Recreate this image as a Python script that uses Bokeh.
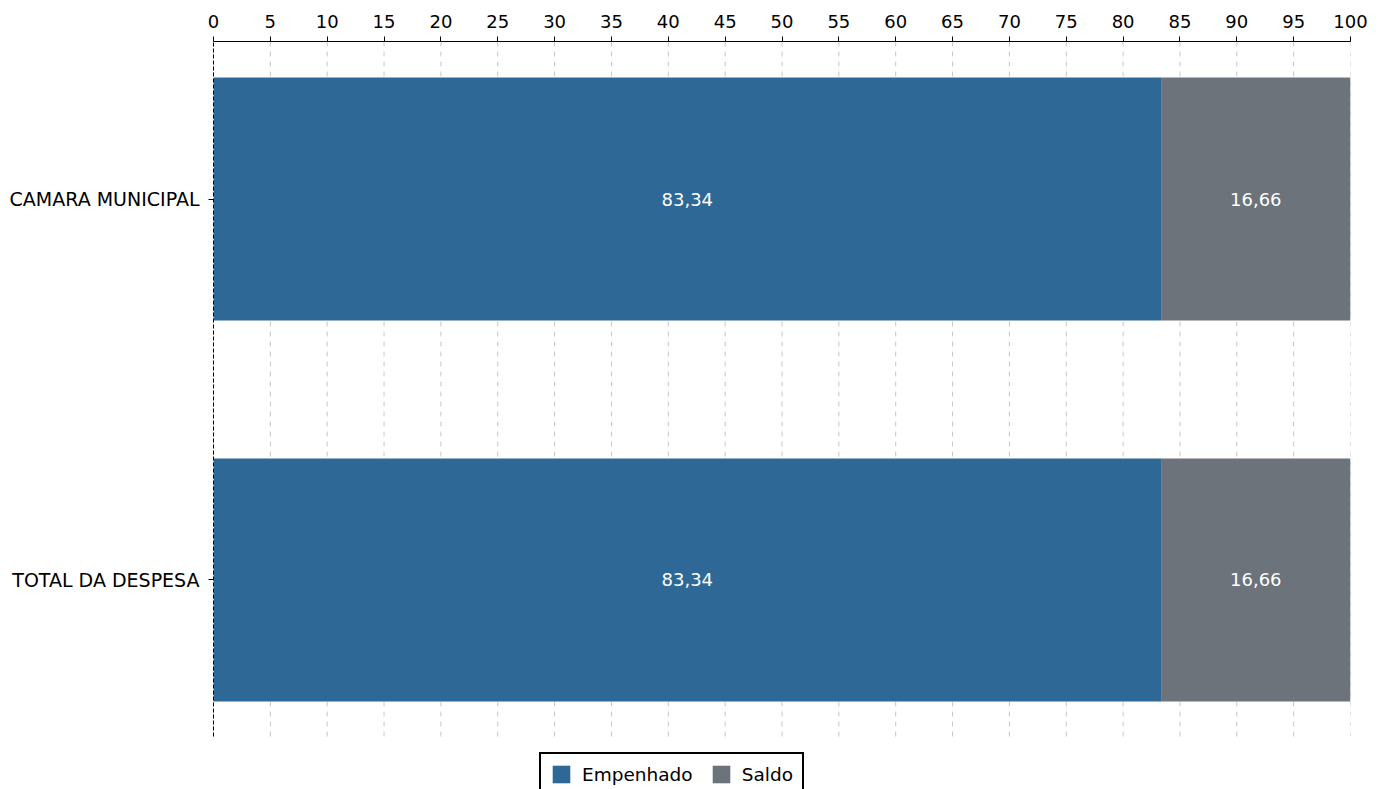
from bokeh.plotting import figure
from bokeh.models import ColumnDataSource, FixedTicker, Range1d, Legend, LegendItem
from bokeh.embed import file_html
from bokeh.resources import INLINE
from bokeh.core.properties import value

categories = ["CAMARA MUNICIPAL", "TOTAL DA DESPESA"]
empenhado = [83.34, 83.34]
saldo = [16.66, 16.66]
x_ticks = list(range(0, 101, 5))

FONT = "DejaVu Sans"
FS = "18px"
BLUE = "#2e6896"
GRAY = "#6c737a"

Y_TOP = 1.4134       # top of plotting area (data units)
Y_AXIS_BOTTOM = -0.4108
Y_BOTTOM = -0.5499   # frame extends below to hold the legend

ypos = [len(categories) - 1 - i for i in range(len(categories))]
fmt = lambda v: f"{v:.2f}".replace(".", ",")

src = ColumnDataSource(dict(
    y=ypos,
    emp=empenhado,
    sal=saldo,
    total=[e + s for e, s in zip(empenhado, saldo)],
    emp_mid=[e / 2 for e in empenhado],
    sal_mid=[e + s / 2 for e, s in zip(empenhado, saldo)],
    emp_lbl=[fmt(v) for v in empenhado],
    sal_lbl=[fmt(v) for v in saldo],
))

p = figure(width=1383, height=789, output_backend="svg", toolbar_location=None,
           x_range=Range1d(0, 100), y_range=Range1d(Y_BOTTOM, Y_TOP),
           x_axis_location="above",
           min_border_left=213, min_border_right=33, min_border_top=41, min_border_bottom=0)
p.outline_line_color = None
p.background_fill_color = "white"
p.xgrid.grid_line_color = None
p.ygrid.grid_line_color = None

# vertical dashed grid lines limited to the plotting area
p.segment(x0=x_ticks, x1=x_ticks, y0=[Y_AXIS_BOTTOM] * len(x_ticks), y1=[Y_TOP] * len(x_ticks),
          line_color="#c8c8c8", line_dash="5 5", line_width=1)

r1 = p.hbar(y="y", left=0, right="emp", height=0.638, source=src, color=BLUE, line_color=None)
r2 = p.hbar(y="y", left="emp", right="total", height=0.638, source=src, color=GRAY, line_color=None)

p.text(x="emp_mid", y="y", text="emp_lbl", source=src, text_color="white",
       text_align="center", text_baseline="middle", text_font=value(FONT), text_font_size=FS)
p.text(x="sal_mid", y="y", text="sal_lbl", source=src, text_color="white",
       text_align="center", text_baseline="middle", text_font=value(FONT), text_font_size=FS)

xa = p.xaxis[0]
xa.ticker = FixedTicker(ticks=x_ticks)
xa.minor_tick_line_color = None
xa.major_tick_out = 5
xa.major_tick_in = 0
xa.axis_line_color = "black"
xa.major_tick_line_color = "black"
xa.major_label_text_font = FONT
xa.major_label_text_font_size = FS
xa.major_label_text_color = "black"
xa.major_label_standoff = 9

ya = p.yaxis[0]
ya.ticker = FixedTicker(ticks=ypos)
ya.bounds = (Y_AXIS_BOTTOM, Y_TOP)
ya.major_label_overrides = {yv: c for yv, c in zip(ypos, categories)}
ya.minor_tick_line_color = None
ya.major_tick_out = 5
ya.major_tick_in = 0
ya.axis_line_color = "black"
ya.axis_line_dash = "4 2"
ya.major_tick_line_color = "black"
ya.major_label_text_font = FONT
ya.major_label_text_font_size = "19px"
ya.major_label_text_color = "black"
ya.major_label_standoff = 9

legend = Legend(items=[LegendItem(label="Empenhado", renderers=[r1]),
                       LegendItem(label="Saldo", renderers=[r2])],
                orientation="horizontal", location=(326, -7),
                glyph_width=22, glyph_height=22, label_standoff=10, spacing=17,
                padding=9, margin=0, label_height=22,
                label_text_font=FONT, label_text_font_size="18.5px", label_text_color="black",
                border_line_color="black", border_line_width=2, border_line_alpha=1.0,
                background_fill_color="white", background_fill_alpha=1.0)
p.add_layout(legend, "center")

open("out.html", "w").write(file_html(p, INLINE))
